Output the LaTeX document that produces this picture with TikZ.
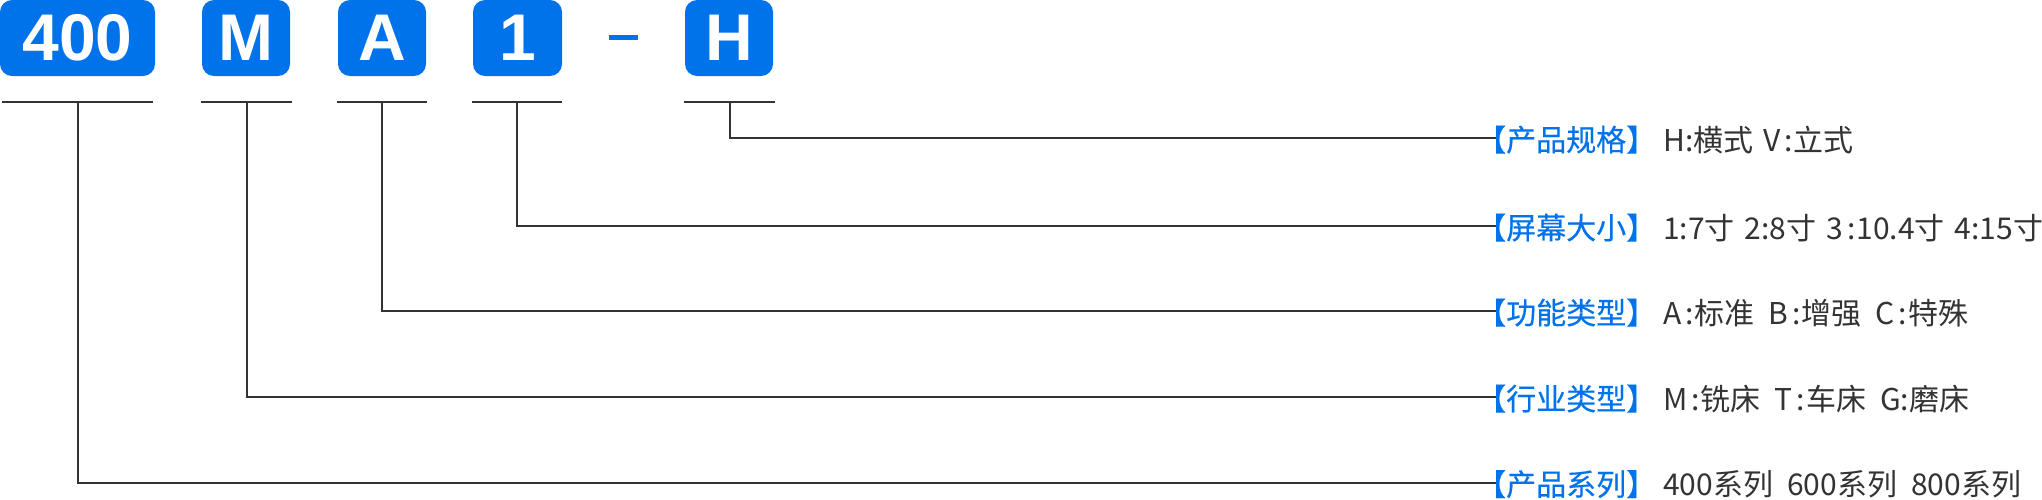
\documentclass[tikz,border=0pt]{standalone}
\usepackage{fontspec}
\newfontfamily\cjk{Noto Sans CJK SC}
\newfontfamily\cjklab[FakeBold=0.4]{Noto Sans CJK SC}
\newfontfamily\boxfont{Liberation Sans}
\definecolor{brand}{HTML}{0073EA}
\definecolor{ink}{HTML}{333333}
\newcommand{\sg}{\hspace{10pt}}
\newcommand{\dg}{\hspace{14pt}}
\newcommand{\rc}{\kern4pt:\kern1pt}
\begin{document}
\begin{tikzpicture}[x=1pt,y=-1pt,
  codebox/.style={fill=brand, rounded corners=12pt, inner sep=0pt, minimum height=76pt,
    text=white, font=\boxfont\bfseries\fontsize{66}{66}\selectfont},
  underline/.style={fill=ink, inner sep=0pt, minimum height=2pt},
  rule/.style={draw=ink, line width=2pt},
  lab/.style={anchor=base west, inner sep=0pt, text=brand, font=\cjklab\fontsize{30}{30}\selectfont},
  desc/.style={anchor=base west, inner sep=0pt, text=ink, font=\cjk\fontsize{30}{30}\selectfont}]
\useasboundingbox (0,0) rectangle (2042,499);
% code boxes
\node[codebox, minimum width=155pt] (b1) at (77.5,38) {400};
\node[codebox, minimum width=88pt] (b2) at (246,38) {M};
\node[codebox, minimum width=88pt] (b3) at (382,38) {A};
\node[codebox, minimum width=89pt] (b4) at (517.5,38) {1};
\node[fill=brand, inner sep=0pt, minimum width=29pt, minimum height=5pt] (dash) at (623.5,37.5) {};
\node[codebox, minimum width=88pt] (b5) at (729,38) {H};
% underlines
\node[underline, minimum width=151pt] (u1) at (77.5,101.5) {};
\node[underline, minimum width=91pt] (u2) at (246.5,101.5) {};
\node[underline, minimum width=90pt] (u3) at (382,101.5) {};
\node[underline, minimum width=90pt] (u4) at (517,101.5) {};
\node[underline, minimum width=91pt] (u5) at (729.5,101.5) {};
% end points
\coordinate (e5) at (1497,138);
\coordinate (e4) at (1497,226);
\coordinate (e3) at (1497,311);
\coordinate (e2) at (1497,397);
\coordinate (e1) at (1497,482.5);
% connectors
\draw[rule] (u5.center) |- (e5);
\draw[rule] (u4.center) |- (e4);
\draw[rule] (u3.center) |- (e3);
\draw[rule] (u2.center) |- (e2);
\draw[rule] (u1.center) |- (e1);
% labels
\node[lab] (l5) at (1476,151) {【产品规格】};
\node[lab] (l4) at (1476,239) {【屏幕大小】};
\node[lab] (l3) at (1476,324) {【功能类型】};
\node[lab] (l2) at (1476,410) {【行业类型】};
\node[lab] (l1) at (1476,495.5) {【产品系列】};
\node[desc] (d5) at (1663,151) {H:横式\sg V\rc 立式};
\node[desc] (d4) at (1663,239) {1:7寸\sg 2:8寸\sg 3\rc 10.4寸\sg 4:15寸};
\node[desc] (d3) at (1663,324) {A\rc 标准\dg B\rc 增强\dg C\rc 特殊};
\node[desc] (d2) at (1663,410) {M\rc 铣床\dg T\rc 车床\dg G:磨床};
\node[desc] (d1) at (1663,495.5) {400系列\dg 600系列\dg 800系列};
\end{tikzpicture}
\end{document}
